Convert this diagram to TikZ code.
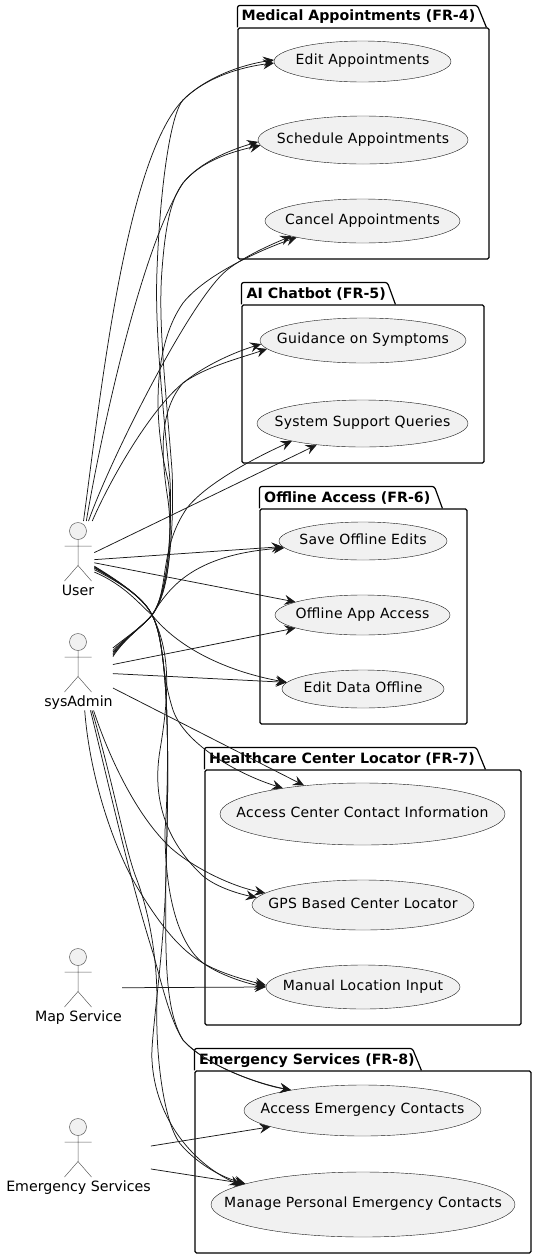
\documentclass[tikz,border=0pt]{standalone}
\usepackage{xcolor}
\usepackage{fontspec}
\setmainfont{DejaVu Sans}
\newfontfamily\ucfont[LetterSpace=2]{DejaVu Sans}
\usepackage{tikz}
\usetikzlibrary{calc}
\usetikzlibrary{arrows.meta}
\usetikzlibrary{shapes.geometric}
\definecolor{ucfill}{HTML}{F1F1F1}
\definecolor{ucline}{HTML}{181818}
\newcommand{\uctext}[1]{\smash{\makebox[0pt]{\raisebox{-3pt}{\ucfont #1}}}}
\tikzset{>={Stealth[length=11pt,width=10pt,inset=4pt]}}
\tikzset{
	usecase/.style={draw=ucline,fill=ucfill,line width=0.4pt,ellipse,inner sep=0pt},
	pkgbox/.style={draw=black,line width=1.2pt,rounded corners=1.5pt,inner sep=0pt},
	pkgtab/.style={draw=black,line width=1.2pt,rounded corners=2.5pt},
	pkgtitle/.style={font=\fontsize{14.2pt}{16pt}\selectfont\bfseries,anchor=base west,inner sep=0pt},
	actor/.style={font=\fontsize{14.2pt}{16pt}\selectfont,inner sep=0pt,text height=74pt,text depth=4pt,anchor=north},
	uses/.style={->,draw=ucline,line width=0.75pt},
	stickman/.pic={
		\draw[draw=ucline!70,fill=ucfill,line width=0.5pt] (0,10) circle (8.5);
		\draw[draw=ucline!70,line width=0.5pt] (0,18.5)--(0,44.5) (-13.5,25)--(13.5,25) (-13.5,60)--(0,44.5)--(13.5,60);
	}
}
\begin{document}
\begin{tikzpicture}[x=1pt,y=-1pt,font=\fontsize{14pt}{16pt}\selectfont]
	\useasboundingbox (0,0) rectangle (536,1259);
	% packages
	\node[pkgbox,minimum width=251,minimum height=231] (medical) at (363.5,143.5) {};
	\draw[pkgtab] (medical.north west)--++(0,-22)--++(240,0)--++(9,22);
	\node[pkgtitle] (medicalname) at (241.5,20.5) {Medical Appointments (FR-4)};
	\node[pkgbox,minimum width=242,minimum height=158] (chatbot) at (363,384) {};
	\draw[pkgtab] (chatbot.north west)--++(0,-22)--++(146,0)--++(8,22);
	\node[pkgtitle] (chatbotname) at (246.5,298) {AI Chatbot (FR-5)};
	\node[pkgbox,minimum width=207,minimum height=215] (offline) at (363.5,616.5) {};
	\draw[pkgtab] (offline.north west)--++(0,-22)--++(175,0)--++(8,22);
	\node[pkgtitle] (offlinename) at (264,502) {Offline Access (FR-6)};
	\node[pkgbox,minimum width=316,minimum height=255] (locator) at (363,897.5) {};
	\draw[pkgtab] (locator.north west)--++(0,-22)--++(272,0)--++(9,22);
	\node[pkgtitle] (locatorname) at (209,763) {Healthcare Center Locator (FR-7)};
	\node[pkgbox,minimum width=336,minimum height=182] (emergency) at (363,1162) {};
	\draw[pkgtab] (emergency.north west)--++(0,-22)--++(218,0)--++(9,22);
	\node[pkgtitle] (emergencyname) at (199,1064) {Emergency Services (FR-8)};
	% use cases
	\node[usecase,minimum width=177,minimum height=41] (editapp) at (362.5,61.5) {\uctext{Edit Appointments}};
	\node[usecase,minimum width=210,minimum height=48] (schedapp) at (363,140) {\uctext{Schedule Appointments}};
	\node[usecase,minimum width=195,minimum height=44] (cancelapp) at (362.5,221) {\uctext{Cancel Appointments}};
	\node[usecase,minimum width=206,minimum height=45] (guidance) at (363,340.5) {\uctext{Guidance on Symptoms}};
	\node[usecase,minimum width=211,minimum height=47] (support) at (362.5,423.5) {\uctext{System Support Queries}};
	\node[usecase,minimum width=168,minimum height=38] (saveoff) at (363,541) {\uctext{Save Offline Edits}};
	\node[usecase,minimum width=175,minimum height=40] (offapp) at (362.5,615) {\uctext{Offline App Access}};
	\node[usecase,minimum width=162,minimum height=38] (editoff) at (363,689) {\uctext{Edit Data Offline}};
	\node[usecase,minimum width=285,minimum height=62] (contact) at (362.5,814) {\uctext{Access Center Contact Information}};
	\node[usecase,minimum width=222,minimum height=50] (gps) at (363,905) {\uctext{GPS Based Center Locator}};
	\node[usecase,minimum width=194,minimum height=44] (manual) at (363,987) {\uctext{Manual Location Input}};
	\node[usecase,minimum width=237,minimum height=51] (emcontacts) at (362.5,1110.5) {\uctext{Access Emergency Contacts}};
	\node[usecase,minimum width=304,minimum height=65] (empersonal) at (363,1204.5) {\uctext{Manage Personal Emergency Contacts}};
	% actors
	\node[actor] (user) at (78,521) {User};
	\node[actor] (sysadmin) at (78.5,632) {sysAdmin};
	\node[actor] (mapservice) at (78.5,947) {Map Service};
	\node[actor] (emservice) at (78.5,1117) {Emergency Services};
	\pic at (user.north) {stickman};
	\pic at ([xshift=-0.5pt]sysadmin.north) {stickman};
	\pic at ([xshift=-0.5pt]mapservice.north) {stickman};
	\pic at ([xshift=-0.5pt]emservice.north) {stickman};
	% user up
	\draw[uses] (user.82) .. controls (100,400) and (125,160) .. (183,100) .. controls (205,78) and (240,65) .. (editapp.179);
	\draw[uses] (user.78) .. controls (100,440) and (140,250) .. (183,183) .. controls (200,162) and (230,150) .. (schedapp.181.7);
	\draw[uses] (user.75) .. controls (110,460) and (190,300) .. (227,270) .. controls (245,256) and (270,245) .. (cancelapp.192);
	\draw[uses] (user.70) .. controls (110,480) and (150,410) .. (183,383) .. controls (205,367) and (240,358) .. (guidance.185);
	\draw[uses] (user.25)--(support.205.3);
	\draw[uses] (user.2)--(saveoff.184);
	\draw[uses] (user.-9)--(offapp.169);
	% user down
	\draw[uses] (user.-36) .. controls (125,585) and (140,605) .. (152,615) .. controls (180,650) and (230,672) .. (editoff.175);
	\draw[uses] (user.-30) .. controls (125,585) and (145,600) .. (152,615) .. controls (165,640) and (160,670) .. (173,710) .. controls (185,745) and (240,775) .. (contact.162);
	\draw[uses] (user.-26) .. controls (125,585) and (145,600) .. (152,615) .. controls (170,650) and (170,690) .. (160,750) .. controls (150,810) and (175,850) .. (203,876) .. controls (215,886) and (235,893) .. (gps.176);
	\draw[uses] (user.-24) .. controls (125,585) and (145,600) .. (152,615) .. controls (172,650) and (168,800) .. (165,830) .. controls (165,900) and (180,945) .. (203,963) .. controls (220,975) and (245,983) .. (manual.180);
	\draw[uses] (user.-22) .. controls (125,585) and (145,600) .. (152,615) .. controls (172,650) and (168,800) .. (166,870) .. controls (165,960) and (165,1010) .. (183,1040) .. controls (205,1065) and (260,1085) .. (emcontacts.164.5);
	\draw[uses] (user.-20) .. controls (125,585) and (145,600) .. (152,615) .. controls (172,650) and (168,800) .. (166,870) .. controls (165,950) and (150,1040) .. (152,1060) .. controls (155,1120) and (195,1165) .. (empersonal.171.4);
	% sysadmin up
	\draw[uses] (sysadmin.34) .. controls (125,638) and (142,627) .. (152,615) .. controls (170,590) and (172,520) .. (170,480) .. controls (160,380) and (155,320) .. (157,270) .. controls (160,190) and (170,115) .. (183,100) .. controls (205,78) and (240,67) .. (editapp.181);
	\draw[uses] (sysadmin.31) .. controls (125,638) and (142,627) .. (152,615) .. controls (172,590) and (174,510) .. (172,470) .. controls (165,380) and (158,320) .. (162,270) .. controls (165,230) and (170,200) .. (183,183) .. controls (200,162) and (230,152) .. (schedapp.183.4);
	\draw[uses] (sysadmin.29) .. controls (125,638) and (142,627) .. (152,615) .. controls (172,590) and (172,500) .. (168,480) .. controls (155,430) and (150,350) .. (183,303) .. controls (205,275) and (260,250) .. (cancelapp.194);
	\draw[uses] (sysadmin.27) .. controls (125,638) and (142,627) .. (152,615) .. controls (172,590) and (172,530) .. (168,500) .. controls (160,450) and (160,410) .. (183,383) .. controls (205,365) and (235,352) .. (guidance.182.5);
	\draw[uses] (sysadmin.25) .. controls (125,638) and (142,627) .. (152,615) .. controls (170,590) and (158,550) .. (187,508) .. controls (205,485) and (250,460) .. (support.194.5);
	\draw[uses] (sysadmin.23) .. controls (125,638) and (142,627) .. (152,615) .. controls (168,590) and (190,555) .. (saveoff.185);
	\draw[uses] (sysadmin.11)--(offapp.191);
	\draw[uses] (sysadmin.-4)--(editoff.175.8);
	\draw[uses] (sysadmin.-26)--(contact.154);
	% sysadmin down
	\draw[uses] (sysadmin.-69) .. controls (110,760) and (135,810) .. (163,840) .. controls (180,860) and (225,885) .. (gps.173);
	\draw[uses] (sysadmin.-81) .. controls (90,780) and (115,850) .. (137,887) .. controls (160,925) and (180,950) .. (203,963) .. controls (220,973) and (245,980) .. (manual.179.5);
	\draw[uses] (sysadmin.-73) .. controls (110,790) and (130,880) .. (153,953) .. controls (162,985) and (170,1020) .. (183,1040) .. controls (205,1065) and (255,1083) .. (emcontacts.164);
	\draw[uses] (sysadmin.-71) .. controls (115,790) and (125,850) .. (137,880) .. controls (150,915) and (157,960) .. (157,1000) .. controls (155,1060) and (165,1130) .. (183,1147) .. controls (195,1160) and (215,1175) .. (empersonal.170.4);
	% other actors
	\draw[uses] (mapservice.-2)--(manual.180);
	\draw[uses] (emservice.8)--(emcontacts.190.5);
	\draw[uses] (emservice.-10)--(empersonal.170.4);
\end{tikzpicture}
\end{document}
